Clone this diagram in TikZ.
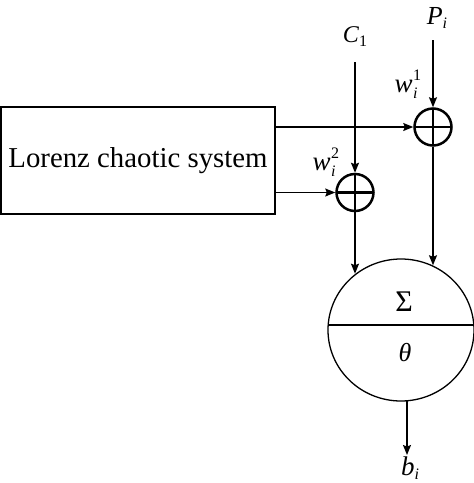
\documentclass[tikz,border=0pt]{standalone}
\usepackage{fontspec}
\setmainfont{Liberation Serif}
\usetikzlibrary{shapes.geometric,arrows.meta}
\newcommand{\smallfs}{\fontsize{16}{16}\selectfont}
\newcommand{\wlabel}[1]{{\itshape w}\hspace{0.5pt}\rlap{\raisebox{12pt}{\smallfs #1}}\raisebox{-6pt}{\smallfs\itshape i}}
\begin{document}
\begin{tikzpicture}[x=1pt,y=-1pt,
  thinline/.style={line width=1.3pt},
  arr/.style={thinline,-{Stealth[length=10pt,width=8pt,inset=1.5pt]}},
  plusnode/.style={circle,draw,line width=2.5pt,minimum size=37pt,inner sep=0pt,
    path picture={\draw[line width=2.5pt] (path picture bounding box.north) -- (path picture bounding box.south)
      (path picture bounding box.west) -- (path picture bounding box.east);}},
  lbl/.style={inner sep=0pt,font=\fontsize{24}{24}\selectfont}
]
\useasboundingbox (0,0) rectangle (474,483);
% box
\node[draw,thinline,minimum width=274pt,minimum height=107pt,inner sep=0pt,
  font=\fontsize{28.8}{30}\selectfont] (box) at (138,160.5) {Lorenz chaotic system};
% plus nodes
\node[plusnode] (p1) at (433,127) {};
\node[plusnode] (p2) at (355,192.5) {};
% neuron
\node[ellipse,draw,thinline,minimum width=146pt,minimum height=142pt,inner sep=0pt] (neu) at (401,330) {};
\coordinate (hl) at (328,325);
\coordinate (hr) at (474,325);
\draw[thinline] (hl) -- (hr);
\node[inner sep=0pt,font=\fontsize{30}{30}\selectfont] (sig) at (404,302) {Σ};
\node[inner sep=0pt,font=\fontsize{26}{26}\selectfont\itshape] (th) at (405,353) {θ};
% labels
\node[lbl] (c1) at (355,37) {{\itshape C}\raisebox{-4pt}{\smallfs 1}};
\node[lbl,font=\fontsize{26}{26}\selectfont] (pi) at (437,18) {{\itshape P}\raisebox{-4pt}{\smallfs\itshape i}};
\node[lbl,font=\fontsize{27}{27}\selectfont] (w1) at (406,84) {\wlabel{1}};
\node[lbl,font=\fontsize{27}{27}\selectfont] (w2) at (324,162) {\wlabel{2}};
\node[lbl,font=\fontsize{27}{27}\selectfont] (bi) at (410,468) {{\itshape b}\raisebox{-4pt}{\smallfs\itshape i}};
% coordinates
\coordinate (c1s) at (355,62);
\coordinate (pis) at (433,40);
\coordinate (bend) at (407,455);
% connectors
\draw[arr] (c1s) -- (p2.north);
\draw[arr] (pis) -- (p1.north);
\draw[arr] (box.east |- p1.west) -- (p1.west);
\draw[arr] (box.east |- p2.west) -- (p2.west);
\draw[arr] (p2.south) -- (p2.south |- neu.129.9);
\draw[arr] (p1.south) -- (p1.south |- neu.64.3);
\draw[arr] (bend |- neu.-85.2) -- (bend);
\end{tikzpicture}
\end{document}
